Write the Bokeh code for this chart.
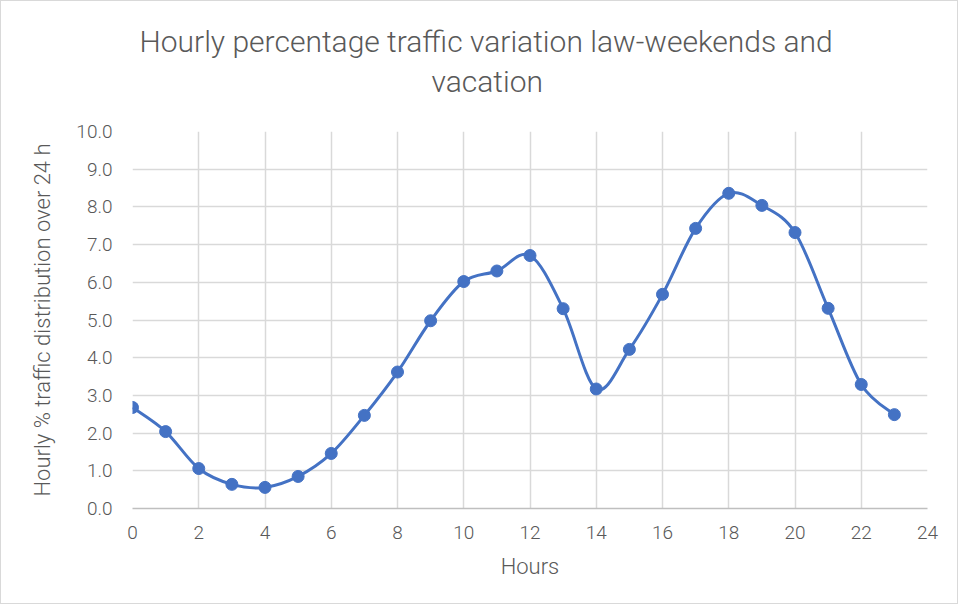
from bokeh.plotting import figure
from bokeh.models import Title, FixedTicker, Range1d, ColumnDataSource, NumeralTickFormatter
from bokeh.embed import file_html
from bokeh.resources import INLINE

hours = list(range(24))
share = [2.68, 2.04, 1.06, 0.64, 0.56, 0.85, 1.46, 2.47, 3.62, 4.98, 6.02, 6.30,
         6.71, 5.30, 3.17, 4.22, 5.68, 7.43, 8.36, 8.04, 7.32, 5.31, 3.29, 2.49]
x_ticks = list(range(0, 25, 2))
y_ticks = list(range(0, 11))
title_lines = ["Hourly percentage traffic variation law-weekends and", "vacation"]
x_label = "Hours"
y_label = "Hourly % traffic distribution over 24 h"

FONT = "Roboto Light, Roboto"
GREY = "#595959"
BLUE = "#4472C4"

W, H = 958, 604
p = figure(width=W, height=H, output_backend="svg", toolbar_location=None,
           x_range=Range1d(0, 24), y_range=Range1d(0, 10),
           min_border_left=131, min_border_right=W - 926, min_border_top=130,
           min_border_bottom=H - 507)
p.styles = {"border": "1px solid #d9d9d9"}
p.outline_line_color = None

# smooth curve (Catmull-Rom -> cubic Bezier, similar to Excel smoothing)
n = len(hours)
x0, y0, x1, y1, cx0, cy0, cx1, cy1 = [], [], [], [], [], [], [], []
for i in range(n - 1):
    pxm = hours[i - 1] if i > 0 else hours[i]
    pym = share[i - 1] if i > 0 else share[i]
    pxp = hours[i + 2] if i + 2 < n else hours[i + 1]
    pyp = share[i + 2] if i + 2 < n else share[i + 1]
    x0.append(hours[i]); y0.append(share[i])
    x1.append(hours[i + 1]); y1.append(share[i + 1])
    cx0.append(hours[i] + (hours[i + 1] - pxm) / 6)
    cy0.append(share[i] + (share[i + 1] - pym) / 6)
    cx1.append(hours[i + 1] - (pxp - hours[i]) / 6)
    cy1.append(share[i + 1] - (pyp - share[i]) / 6)
curve = ColumnDataSource(dict(x0=x0, y0=y0, x1=x1, y1=y1, cx0=cx0, cy0=cy0, cx1=cx1, cy1=cy1))
p.bezier(x0="x0", y0="y0", x1="x1", y1="y1", cx0="cx0", cy0="cy0", cx1="cx1", cy1="cy1",
         source=curve, line_color=BLUE, line_width=3)
p.scatter(hours, share, size=12, fill_color=BLUE, line_color=BLUE)

p.xaxis.ticker = FixedTicker(ticks=x_ticks)
p.yaxis.ticker = FixedTicker(ticks=y_ticks)
p.yaxis.formatter = NumeralTickFormatter(format="0.0")

for ax in (p.xaxis, p.yaxis):
    ax.major_tick_line_color = None
    ax.minor_tick_line_color = None
    ax.major_label_text_font = FONT
    ax.major_label_text_font_size = "19px"
    ax.major_label_text_color = GREY
    ax.axis_label_text_font = FONT
    ax.axis_label_text_font_size = "22px"
    ax.axis_label_text_font_style = "normal"
    ax.axis_label_text_color = GREY
p.xaxis.axis_line_color = "#bfbfbf"
p.xaxis.axis_line_width = 1.5
p.yaxis.axis_line_color = None
p.xaxis.major_label_standoff = 11
p.yaxis.major_label_standoff = 14
p.xaxis.axis_label = x_label
p.yaxis.axis_label = y_label
p.xaxis.axis_label_standoff = 12
p.yaxis.axis_label_standoff = 18

p.xgrid.ticker = FixedTicker(ticks=x_ticks)
p.ygrid.ticker = FixedTicker(ticks=y_ticks)
p.grid.grid_line_color = "#d9d9d9"
p.grid.grid_line_width = 1.5

# spacer between plot and title, then the two title lines (nearest first)
p.add_layout(Title(text=" ", text_font_size="10px", standoff=18), "above")
p.add_layout(Title(text=title_lines[1], align="left", offset=299, standoff=4,
                   text_font=FONT, text_font_size="30px", text_font_style="normal",
                   text_color=GREY), "above")
p.add_layout(Title(text=title_lines[0], align="left", offset=7, standoff=2,
                   text_font=FONT, text_font_size="30px", text_font_style="normal",
                   text_color=GREY), "above")

open("out.html", "w").write(file_html(p, INLINE))
